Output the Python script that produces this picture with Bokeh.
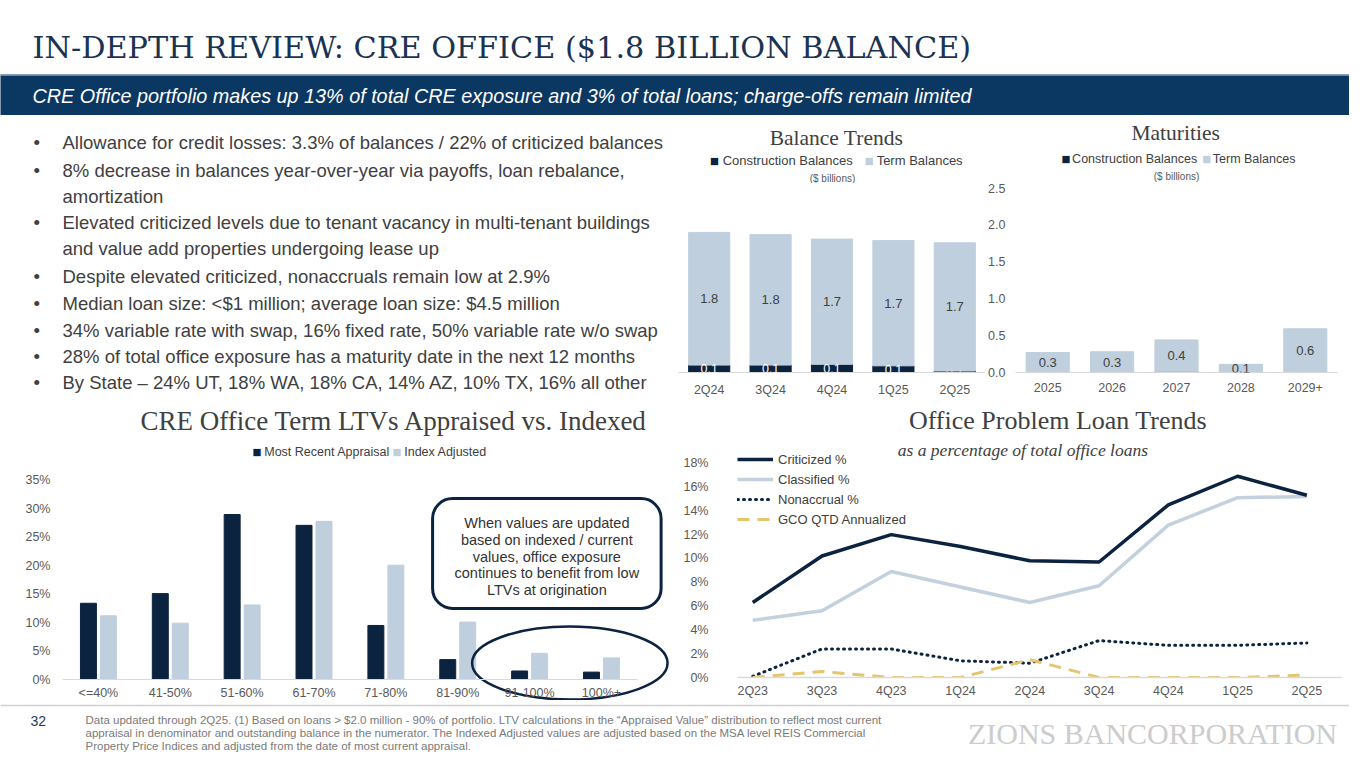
from bokeh.plotting import figure
from bokeh.layouts import column, row
from bokeh.models import (Range1d, FactorRange, FixedTicker, PrintfTickFormatter, Legend,
                          LegendItem, BoxAnnotation, Span, Label, LabelSet, ColumnDataSource)
from bokeh.core.properties import value
from bokeh.embed import file_html
from bokeh.resources import INLINE

# ---------------- data ----------------
bal_quarters = ["2Q24", "3Q24", "4Q24", "1Q25", "2Q25"]
bal_construction = [0.10, 0.10, 0.11, 0.09, 0.02]
bal_term = [1.79, 1.76, 1.69, 1.69, 1.73]
bal_construction_labels = ["0.1", "0.1", "0.1", "0.1", "0.1"]

mat_years = ["2025", "2026", "2027", "2028", "2029+"]
mat_construction = [0.0, 0.0, 0.01, 0.0, 0.0]
mat_term = [0.27, 0.28, 0.43, 0.11, 0.59]

ltv_buckets = ["<=40%", "41-50%", "51-60%", "61-70%", "71-80%", "81-90%", "91-100%", "100%+"]
ltv_appraisal = [13.4, 15.1, 29.0, 27.1, 9.5, 3.5, 1.5, 1.3]
ltv_indexed = [11.2, 9.9, 13.1, 27.8, 20.1, 10.1, 4.6, 3.8]

loan_quarters = ["2Q23", "3Q23", "4Q23", "1Q24", "2Q24", "3Q24", "4Q24", "1Q25", "2Q25"]
criticized = [6.3, 10.2, 12.0, 11.0, 9.8, 9.7, 14.5, 16.9, 15.3]
classified = [4.8, 5.6, 8.9, 7.6, 6.3, 7.7, 12.8, 15.1, 15.2]
nonaccrual = [0.1, 2.4, 2.4, 1.4, 1.2, 3.1, 2.7, 2.7, 2.9]
gco = [0.0, 0.5, 0.0, 0.0, 1.5, 0.0, 0.0, 0.0, 0.2]

page_title = "IN-DEPTH REVIEW: CRE OFFICE ($1.8 BILLION BALANCE)"
page_subtitle = ("CRE Office portfolio makes up 13% of total CRE exposure and 3% of total loans; "
                 "charge-offs remain limited")
bullets = [
    (True, "Allowance for credit losses: 3.3% of balances / 22% of criticized balances"),
    (True, "8% decrease in balances year-over-year via payoffs, loan rebalance,"),
    (False, "amortization"),
    (True, "Elevated criticized levels due to tenant vacancy in multi-tenant buildings"),
    (False, "and value add properties undergoing lease up"),
    (True, "Despite elevated criticized, nonaccruals remain low at 2.9%"),
    (True, "Median loan size: <$1 million; average loan size: $4.5 million"),
    (True, "34% variable rate with swap, 16% fixed rate, 50% variable rate w/o swap"),
    (True, "28% of total office exposure has a maturity date in the next 12 months"),
    (True, "By State \u2013 24% UT, 18% WA, 18% CA, 14% AZ, 10% TX, 16% all other"),
]
callout_text = ("When values are updated\nbased on indexed / current\nvalues, office exposure\n"
                "continues to benefit from low\nLTVs at origination")
footnotes = [
    "Data updated through 2Q25. (1) Based on loans > $2.0 million - 90% of portfolio. LTV calculations in the "
    "\u201cAppraised Value\u201d distribution to reflect most current",
    "appraisal in denominator and outstanding balance in the numerator. The Indexed Adjusted values are adjusted "
    "based on the MSA level REIS Commercial",
    "Property Price Indices and adjusted from the date of most current appraisal.",
]

# ---------------- style ----------------
NAVY = "#0C2340"
LIGHT = "#BFCFDD"
TXT = "#404040"
AXC = "#595959"
SANS = "Liberation Sans"
SERIF = "Liberation Serif"
W = 1349


def canvas(w, h, bg="white"):
    f = figure(width=w, height=h, x_range=Range1d(0, w), y_range=Range1d(h, 0),
               x_axis_type=None, y_axis_type=None, toolbar_location=None,
               output_backend="svg", min_border=0, outline_line_color=None,
               background_fill_color=bg, border_fill_color=bg)
    return f


def put(f, xs, ys, texts, size, color=TXT, font=SANS, align="left", style="normal"):
    f.text(x=xs, y=ys, text=texts, text_font=value(font), text_font_size=value(size),
           text_color=color, text_align=align, text_baseline="middle", text_font_style=style)


def style_axis(ax, size="12.5px", standoff=8, line_color=None):
    ax.major_tick_line_color = None
    ax.minor_tick_line_color = None
    ax.major_tick_out = 0
    ax.major_tick_in = 0
    ax.minor_tick_out = 0
    ax.minor_tick_in = 0
    ax.axis_line_color = line_color
    ax.major_label_text_font = SANS
    ax.major_label_text_font_size = size
    ax.major_label_text_color = AXC
    ax.major_label_standoff = standoff


def chart(w, h, xr, yr, l, r, t, b):
    f = figure(width=w, height=h, x_range=xr, y_range=yr, output_backend="svg",
               toolbar_location=None, min_border_left=l, min_border_right=r,
               min_border_top=t, min_border_bottom=b, outline_line_color=None)
    f.grid.visible = False
    return f


def legend_swatches(f, y, items, size="12.5px"):
    # items: (square_x, text_x, colour, label)
    for sx, tx, col, lab in items:
        put(f, [sx], [y], ["\u25A0"], "9.5px", col, "DejaVu Sans")
        put(f, [tx], [y], [lab], size)


# ---------------- header ----------------
title_fig = canvas(W, 74)
put(title_fig, [32], [47], [page_title], "30.3px", "#1B3353", "DejaVu Serif")
band = canvas(W, 41, "#0B3763")
band.add_layout(Span(location=0.5, dimension="width", line_color="#8FA6BD", line_width=1.5))
put(band, [32], [21], [page_subtitle], "19.8px", "white", SANS, style="italic")

# ---------------- bullets ----------------
bul = canvas(672, 285)
bul_y = [142, 170, 196, 222, 248, 276, 303, 330, 356, 382]
bullet_rows = [y - 115 for (b, _), y in zip(bullets, bul_y) if b]
put(bul, [33] * len(bullet_rows), bullet_rows, ["\u2022"] * len(bullet_rows), "18.5px")
put(bul, [62] * len(bullets), [y - 115 for y in bul_y], [t for _, t in bullets], "18.5px")


# ---------------- bar chart heads ----------------
def bar_head(w, title, tx, ty, sq1, tx1, sq2, tx2, ly, bx, by, size):
    f = canvas(w, 68)
    put(f, [tx], [ty], [title], "21.5px", TXT, SERIF, align="center")
    legend_swatches(f, ly, [(sq1, tx1, NAVY, "Construction Balances"),
                            (sq2, tx2, LIGHT, "Term Balances")], size)
    put(f, [bx], [by], ["($ billions)"], "10px", AXC, align="center")
    return f


bal_head = bar_head(313, "Balance Trends", 161, 22, 32, 45, 190, 202, 45, 157, 63, "13px")
mat_head = bar_head(364, "Maturities", 181, 17, 52, 64, 211, 223, 43, 182, 61, "12.5px")


def stacked(f, cats, con, term, con_labels):
    data = dict(
        cat=cats, construction=con, term=term,
        con_mid=[c / 2 for c in con],
        term_mid=[c + t / 2 for c, t in zip(con, term)],
        term_lbl=["%.1f" % t for t in term],
        con_color=["white" if c >= 0.05 else "#C9D3DD" for c in con])
    if con_labels is not None:
        data["con_lbl"] = con_labels
    src = ColumnDataSource(data)
    f.vbar_stack(["construction", "term"], x="cat", width=0.67, color=[NAVY, LIGHT], source=src)
    f.add_layout(LabelSet(x="cat", y="term_mid", text="term_lbl", source=src, text_align="center",
                          text_baseline="middle", text_font=value(SANS), text_font_size="13px",
                          text_color=TXT))
    if con_labels is not None:
        f.add_layout(LabelSet(x="cat", y="con_mid", text="con_lbl", source=src, text_align="center",
                              text_baseline="middle", text_font=value(SANS), text_font_size="12.5px",
                              text_color="con_color"))


bal = chart(313, 217, FactorRange(factors=bal_quarters), Range1d(0, 2.55), 6, 0, 0, 28)
stacked(bal, bal_quarters, bal_construction, bal_term, bal_construction_labels)
bal.yaxis.visible = False
style_axis(bal.xaxis[0], standoff=10, line_color="#D9D9D9")

mat = chart(364, 217, FactorRange(factors=mat_years), Range1d(0, 2.55), 29, 12, 0, 28)
stacked(mat, mat_years, mat_construction, mat_term, None)
style_axis(mat.xaxis[0], standoff=10, line_color="#D9D9D9")
mat.yaxis[0].ticker = FixedTicker(ticks=[0, 0.5, 1.0, 1.5, 2.0, 2.5])
mat.yaxis[0].formatter = PrintfTickFormatter(format="%.1f")
style_axis(mat.yaxis[0], standoff=10)

# ---------------- LTV chart ----------------
ltv_head = canvas(680, 60)
put(ltv_head, [365], [20], ["CRE Office Term LTVs Appraised vs. Indexed"], "27px", TXT, SERIF, align="center")
legend_swatches(ltv_head, 51, [(209, 222, NAVY, "Most Recent Appraisal"),
                               (363, 376, LIGHT, "Index Adjusted")])

n = len(ltv_buckets)
xi = list(range(n))
ltv = chart(680, 240, Range1d(-0.5, 8.1), Range1d(-3.69, 38.5), 62, 0, 0, 0)
off, bw = 0.139, 0.222
ltv.vbar(x=[i - off for i in xi], top=ltv_appraisal, bottom=0, width=bw, color=NAVY)
ltv.vbar(x=[i + off for i in xi], top=ltv_indexed, bottom=0, width=bw, color=LIGHT)
xa = ltv.xaxis[0]
xa.fixed_location = 0
xa.ticker = FixedTicker(ticks=xi)
xa.major_label_overrides = {i: b for i, b in enumerate(ltv_buckets)}
xa.bounds = (-0.5, n - 0.5)
style_axis(xa, standoff=6, line_color="#D9D9D9")
ya = ltv.yaxis[0]
ya.ticker = FixedTicker(ticks=list(range(0, 36, 5)))
ya.formatter = PrintfTickFormatter(format="%d%%")
style_axis(ya, standoff=12)
ltv.add_layout(BoxAnnotation(left=4.65, right=7.83, top=31.8, bottom=12.5, fill_color="white",
                             fill_alpha=1, line_color=NAVY, line_alpha=1, line_width=3,
                             border_radius=20))
ltv.add_layout(Label(x=(4.65 + 7.83) / 2, y=21.6, text=callout_text, text_align="center",
                     text_baseline="middle", text_font=SANS, text_font_size="14.5px",
                     text_color="#333333", text_line_height=1.04))
ltv.ellipse(x=[(xi[-2] + xi[-1]) / 2 + 0.06], y=[2.9], width=[2.72], height=[12.83],
            fill_color=None, line_color=NAVY, line_width=2.5)

# ---------------- problem loan trends ----------------
line_head = canvas(669, 38)
put(line_head, [355], [20], ["Office Problem Loan Trends"], "26px", TXT, SERIF, align="center")

xq = list(range(len(loan_quarters)))
lc = chart(669, 262, Range1d(-0.22, 8.5), Range1d(0, 20.07), 55, 8, 0, 20)
lc.add_layout(Label(x=3.9, y=19.07, text="as a percentage of total office loans",
                    text_align="center", text_baseline="middle", text_font=SERIF,
                    text_font_size="17.5px", text_font_style="italic", text_color=TXT))
r_clas = lc.line(xq, classified, line_color="#C3D1DE", line_width=3.5, line_join="round")
r_crit = lc.line(xq, criticized, line_color=NAVY, line_width=3.5, line_join="round")
r_non = lc.line(xq, nonaccrual, line_color=NAVY, line_width=3, line_dash="1 5", line_cap="round")
r_gco = lc.line(xq, gco, line_color="#E5C46E", line_width=3, line_dash="12 8")
lxa = lc.xaxis[0]
lxa.ticker = FixedTicker(ticks=xq)
lxa.major_label_overrides = {i: q for i, q in enumerate(loan_quarters)}
style_axis(lxa, standoff=6, line_color="#D9D9D9")
lxa.axis_line_width = 1.5
lya = lc.yaxis[0]
lya.ticker = FixedTicker(ticks=list(range(0, 19, 2)))
lya.formatter = PrintfTickFormatter(format="%d%%")
style_axis(lya, standoff=29)
legend = Legend(items=[LegendItem(label="Criticized %", renderers=[r_crit]),
                       LegendItem(label="Classified %", renderers=[r_clas]),
                       LegendItem(label="Nonaccrual %", renderers=[r_non]),
                       LegendItem(label="GCO QTD Annualized", renderers=[r_gco])],
                location=(0, 149), orientation="vertical", glyph_width=36, glyph_height=18,
                label_height=18, spacing=2, padding=0, margin=0, border_line_color=None,
                background_fill_alpha=0, label_text_font=SANS, label_text_font_size="13px",
                label_text_color=TXT, label_standoff=5)
lc.add_layout(legend)

# ---------------- footer ----------------
foot = canvas(W, 52)
foot.add_layout(Span(location=5, dimension="width", line_color="#D0D0D0", line_width=1.5))
put(foot, [30], [20], ["32"], "14px", "#1F3A5F")
put(foot, [85] * 3, [19, 32, 45], footnotes, "11.5px", "#7A7A7A")
put(foot, [1152], [33], ["ZIONS BANCORPORATION"], "30px", "#CCCCCC", SERIF, align="center")

page = column(column(title_fig, band),
              row(bul, column(bal_head, bal), column(mat_head, mat)),
              row(column(ltv_head, ltv), column(line_head, lc)),
              foot)

open("out.html", "w").write(file_html(page, INLINE))
